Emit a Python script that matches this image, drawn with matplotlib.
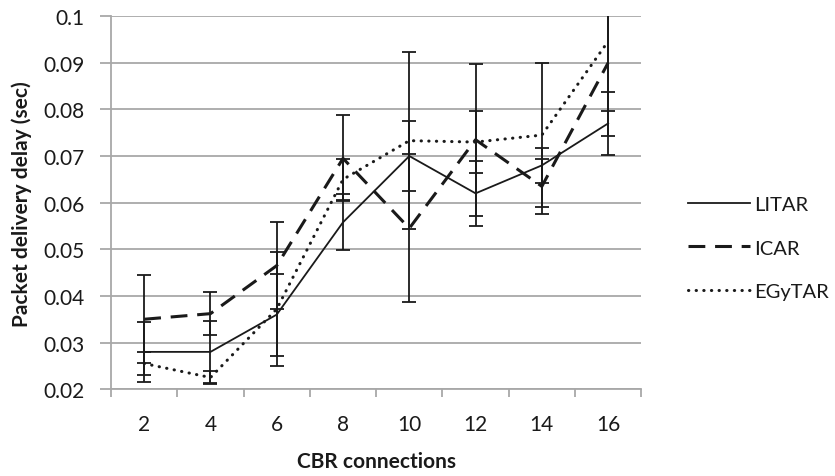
import numpy as np
import matplotlib
matplotlib.use("Agg")
import matplotlib.pyplot as plt

plt.rcParams['font.family'] = ['Lato', 'DejaVu Sans']

# data
cbr = ['2', '4', '6', '8', '10', '12', '14', '16']
litar = [0.028, 0.028, 0.036, 0.0558, 0.070, 0.062, 0.068, 0.077]
litar_err = [0.0065, 0.0067, 0.0088, 0.006, 0.0075, 0.007, 0.0037, 0.0068]
icar = [0.035, 0.0362, 0.0465, 0.0695, 0.0545, 0.0735, 0.0635, 0.090]
icar_err = [0.0094, 0.0046, 0.0094, 0.0092, 0.0159, 0.0163, 0.0059, 0.0103]
egytar = [0.0255, 0.0225, 0.0372, 0.065, 0.0733, 0.073, 0.0745, 0.0946]
egytar_err = [0.0025, 0.0013, 0.0122, 0.0044, 0.019, 0.0067, 0.0155, 0.0203]

ink = '#1a1a1a'
grid = '#a8a8a8'

fig = plt.figure(figsize=(8.35, 4.77), dpi=100)
ax = fig.add_axes([0.133, 0.182, 0.635, 0.782])
x = np.arange(len(cbr))

ebkw = dict(fmt='none', ecolor=ink, elinewidth=1.3, capsize=4.7, capthick=1.3, zorder=3)
ax.errorbar(x, litar, yerr=litar_err, **ebkw)
ax.errorbar(x, icar, yerr=icar_err, **ebkw)
ax.errorbar(x, egytar, yerr=egytar_err, **ebkw)

ax.plot(x, litar, color=ink, lw=1.3, label='LITAR', zorder=4)
ax.plot(x, icar, color=ink, lw=2.2, linestyle=(0, (5.5, 3.2)), label='ICAR', zorder=4)
ax.plot(x, egytar, color=ink, lw=2.2, linestyle=(0, (0.1, 2.4)),
        dash_capstyle='round', label='EGyTAR', zorder=4)

ax.set_xlim(-0.5, len(cbr) - 0.5)
ax.set_ylim(0.02, 0.1)
ax.set_yticks(np.arange(0.02, 0.1001, 0.01))
ax.set_yticklabels(['0.02', '0.03', '0.04', '0.05', '0.06', '0.07', '0.08', '0.09', '0.1'])

# ticks between categories, labels at category centres
ax.set_xticks(np.arange(-0.5, len(cbr) + 0.5, 1))
ax.set_xticklabels([])
ax.set_xticks(x, minor=True)
ax.set_xticklabels(cbr, minor=True)
ax.tick_params(axis='x', which='major', length=6, width=1.3, color=grid, direction='out')
ax.tick_params(axis='x', which='minor', length=0, pad=18, labelsize=15, labelcolor=ink)
ax.tick_params(axis='y', length=8, width=1.3, color=grid, pad=11, labelsize=15, labelcolor=ink)

ax.yaxis.grid(True, color=grid, lw=1.3)
ax.set_axisbelow(True)
for s in ['top', 'right']:
    ax.spines[s].set_visible(False)
for s in ['left', 'bottom']:
    ax.spines[s].set_color(grid)
    ax.spines[s].set_linewidth(1.3)

ax.set_ylabel('Packet delivery delay (sec)', fontsize=15, fontweight='bold', color=ink, va='center')
ax.set_xlabel('CBR connections', fontsize=15, fontweight='bold', color=ink, va='center')
ax.yaxis.set_label_coords(-0.168, 0.5)
ax.xaxis.set_label_coords(0.5, -0.193)

fig.legend(loc='center left', bbox_to_anchor=(0.802, 0.478), frameon=False,
           fontsize=14.5, handlelength=3.1, handletextpad=0.2, labelspacing=1.3,
           labelcolor=ink)

fig.savefig('out.png', dpi=100)
